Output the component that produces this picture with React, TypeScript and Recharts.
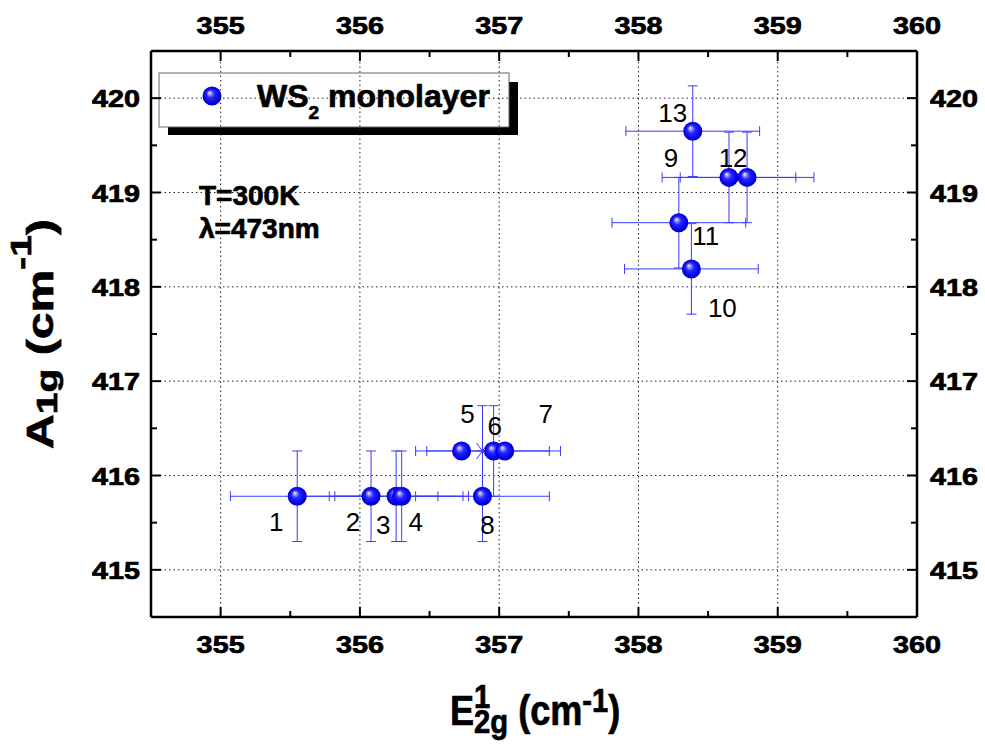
import React from "react";
import {
  ScatterChart,
  Scatter,
  XAxis,
  YAxis,
  ErrorBar,
  ReferenceLine,
  Customized,
} from "recharts";

// E2g^1 / A1g Raman peak positions of the WS2 monolayer samples (cm^-1)
const sampleNames = ["1", "2", "3", "4", "5", "6", "7", "8", "9", "10", "11", "12", "13"];
const e2gValues = [355.55, 356.08, 356.26, 356.3, 356.73, 356.96, 357.04, 356.88, 358.65, 358.38, 358.29, 358.78, 358.39];
const a1gValues = [415.78, 415.78, 415.78, 415.78, 416.26, 416.26, 416.26, 415.78, 419.16, 418.19, 418.68, 419.16, 419.65];
const e2gErrors = [0.48, 0.48, 0.48, 0.48, 0, 0.48, 0, 0.48, 0.48, 0.48, 0.48, 0.48, 0.48];
const a1gErrors = [0.48, 0.48, 0.48, 0.48, 0, 0.48, 0, 0.48, 0.48, 0.48, 0.48, 0.48, 0.48];

// stray cross-marked point with its own error bars
const crossE2g = [356.88];
const crossA1g = [416.26];
const crossErr = [0.48];

const xTicks = [355, 355.5, 356, 356.5, 357, 357.5, 358, 358.5, 359, 359.5, 360];
const yTicks = [415, 415.5, 416, 416.5, 417, 417.5, 418, 418.5, 419, 419.5, 420];
const xGrid = [355, 356, 357, 358, 359];
const yGrid = [415, 416, 417, 418, 419, 420];

// label placement relative to each point: [dx of centre, dy of baseline]
const labelOffsets: [number, number][] = [
  [-21, 35], [-18, 35], [-13, 38], [14, 35], [6, -28], [1, -16], [41, -28],
  [5, 38], [-58, -10], [31, 48], [27, 22], [-14, -10], [-20, -9],
];

const points = sampleNames.map((name, i) => ({
  name,
  x: e2gValues[i],
  y: a1gValues[i],
  ex: e2gErrors[i],
  ey: a1gErrors[i],
}));

const crossPoints = crossE2g.map((x, i) => ({ x, y: crossA1g[i], ex: crossErr[i], ey: crossErr[i] }));

const FONT = '"Liberation Sans", Arial, Helvetica, sans-serif';
const BAR = "#3a3aff";
const axisStyle = { stroke: "#000", strokeWidth: 2.5 };
// heavier bold, like the original export
const heavy = { fontFamily: FONT, fontWeight: "bold" as const, fill: "#000", stroke: "#000", strokeWidth: 0.7 };

const isMajor = (v: number) => Math.abs(v - Math.round(v)) < 1e-6;

function TickLabel({ x, y, anchor, value }: any) {
  return (
    <text transform={`translate(${x},${y}) scale(1.2,1)`} textAnchor={anchor} fontSize={24} {...heavy}>
      {value}
    </text>
  );
}

function BottomTick({ x, y, payload }: any) {
  const major = isMajor(payload.value);
  return (
    <g>
      <line x1={x} x2={x} y1={y} y2={y - (major ? 10 : 6)} stroke="#000" strokeWidth={2} />
      {major && <TickLabel x={x} y={y + 36} anchor="middle" value={payload.value} />}
    </g>
  );
}

function TopTick({ x, y, payload }: any) {
  const major = isMajor(payload.value);
  return (
    <g>
      <line x1={x} x2={x} y1={y} y2={y + (major ? 10 : 6)} stroke="#000" strokeWidth={2} />
      {major && <TickLabel x={x} y={y - 17} anchor="middle" value={payload.value} />}
    </g>
  );
}

function LeftTick({ x, y, payload }: any) {
  const major = isMajor(payload.value);
  return (
    <g>
      <line x1={x} x2={x + (major ? 10 : 6)} y1={y} y2={y} stroke="#000" strokeWidth={2} />
      {major && <TickLabel x={x - 11} y={y + 9} anchor="end" value={payload.value} />}
    </g>
  );
}

function RightTick({ x, y, payload }: any) {
  const major = isMajor(payload.value);
  return (
    <g>
      <line x1={x} x2={x - (major ? 10 : 6)} y1={y} y2={y} stroke="#000" strokeWidth={2} />
      {major && <TickLabel x={x + 13} y={y + 9} anchor="start" value={payload.value} />}
    </g>
  );
}

function Ball({ cx, cy }: any) {
  if (cx == null || cy == null) return null;
  return <circle cx={cx} cy={cy} r={9.5} fill="url(#wsBall)" />;
}

function Cross({ cx, cy }: any) {
  if (cx == null || cy == null) return null;
  return (
    <g stroke={BAR} strokeWidth={1}>
      <line x1={cx - 6} y1={cy - 8} x2={cx + 6} y2={cy + 8} />
      <line x1={cx - 6} y1={cy + 8} x2={cx + 6} y2={cy - 8} />
    </g>
  );
}

function PointLabel({ cx, cy, payload }: any) {
  if (cx == null || cy == null || !payload) return null;
  const i = sampleNames.indexOf(payload.name);
  const [dx, dy] = labelOffsets[i];
  return (
    <text x={cx + dx} y={cy + dy} textAnchor="middle" fontFamily={FONT} fontSize={26} fill="#000">
      {payload.name}
    </text>
  );
}

function Overlay() {
  return (
    <g>
      <defs>
        <radialGradient id="wsBall" cx="50%" cy="50%" r="50%" fx="36%" fy="32%">
          <stop offset="0%" stopColor="#f4f4ff" />
          <stop offset="16%" stopColor="#a0a0ff" />
          <stop offset="42%" stopColor="#2828ff" />
          <stop offset="85%" stopColor="#0000ea" />
          <stop offset="100%" stopColor="#0000b8" />
        </radialGradient>
      </defs>

      {/* legend box with drop shadow */}
      <rect x={168} y={82} width={350} height={53} fill="#000" />
      <rect x={159} y={73} width={350} height={54} fill="#fff" stroke="#666" strokeWidth={1} />
      <circle cx={212} cy={96} r={9.5} fill="url(#wsBall)" />
      <text x={257} y={107} fontSize={32} {...heavy}>
        WS
        <tspan fontSize={19} dy={12}>2</tspan>
        <tspan dy={-12}> monolayer</tspan>
      </text>

      <text x={199} y={205} fontSize={28} {...heavy}>
        T=300K
      </text>
      <text x={199} y={238} fontSize={28} {...heavy}>
        λ=473nm
      </text>

      {/* y title */}
      <text transform="translate(53,334) rotate(-90) scale(1.3,1)" textAnchor="middle" fontSize={37} {...heavy}>
        A<tspan fontSize={30} dy={4}>1g</tspan>
        <tspan dy={-4}> (cm</tspan>
        <tspan fontSize={30} dy={-22}>-1</tspan>
        <tspan dy={22}>)</tspan>
      </text>

      {/* x title */}
      <text transform="translate(450,725) scale(0.86,1)" fontSize={42} {...heavy}>
        E<tspan fontSize={34} dy={-17}>1</tspan>
        <tspan fontSize={34} dx={-19} dy={25}>2g</tspan>
        <tspan dy={-8}> (cm</tspan>
        <tspan fontSize={34} dy={-13}>-1</tspan>
        <tspan dy={13}>)</tspan>
      </text>
    </g>
  );
}

export default function App() {
  return (
    <div style={{ position: "absolute", left: 0, top: 0, background: "#fff" }}>
      <ScatterChart width={985} height={744} margin={{ top: 0, right: 0, bottom: 0, left: 0 }}>
        <XAxis
          xAxisId="b"
          type="number"
          dataKey="x"
          domain={[354.5, 360]}
          ticks={xTicks}
          interval={0}
          height={127}
          tickSize={0}
          tickMargin={0}
          tickLine={false}
          axisLine={axisStyle}
          tick={(p: any) => <BottomTick {...p} />}
          allowDataOverflow
        />
        <XAxis
          xAxisId="t"
          orientation="top"
          type="number"
          dataKey="x"
          domain={[354.5, 360]}
          ticks={xTicks}
          interval={0}
          height={51}
          tickSize={0}
          tickMargin={0}
          tickLine={false}
          axisLine={axisStyle}
          tick={(p: any) => <TopTick {...p} />}
          allowDataOverflow
        />
        <YAxis
          yAxisId="l"
          type="number"
          dataKey="y"
          domain={[414.5, 420.5]}
          ticks={yTicks}
          interval={0}
          width={151}
          tickSize={0}
          tickMargin={0}
          tickLine={false}
          axisLine={axisStyle}
          tick={(p: any) => <LeftTick {...p} />}
          allowDataOverflow
        />
        <YAxis
          yAxisId="r"
          orientation="right"
          type="number"
          dataKey="y"
          domain={[414.5, 420.5]}
          ticks={yTicks}
          interval={0}
          width={68}
          tickSize={0}
          tickMargin={0}
          tickLine={false}
          axisLine={axisStyle}
          tick={(p: any) => <RightTick {...p} />}
          allowDataOverflow
        />

        {xGrid.map((v) => (
          <ReferenceLine key={`gx${v}`} x={v} xAxisId="b" yAxisId="l" stroke="#222" strokeDasharray="1.5 3" />
        ))}
        {yGrid.map((v) => (
          <ReferenceLine key={`gy${v}`} y={v} xAxisId="b" yAxisId="l" stroke="#222" strokeDasharray="1.5 3" />
        ))}

        <Scatter data={crossPoints} xAxisId="b" yAxisId="l" shape={<Cross />} isAnimationActive={false}>
          <ErrorBar dataKey="ex" direction="x" width={5} stroke={BAR} strokeWidth={1} isAnimationActive={false} />
          <ErrorBar dataKey="ey" direction="y" width={5} stroke={BAR} strokeWidth={1} isAnimationActive={false} />
        </Scatter>
        <Scatter data={points} xAxisId="b" yAxisId="l" shape={<Ball />} isAnimationActive={false}>
          <ErrorBar dataKey="ex" direction="x" width={5} stroke={BAR} strokeWidth={1} isAnimationActive={false} />
          <ErrorBar dataKey="ey" direction="y" width={5} stroke={BAR} strokeWidth={1} isAnimationActive={false} />
        </Scatter>
        <Scatter data={points} xAxisId="b" yAxisId="l" shape={<PointLabel />} isAnimationActive={false} />

        <Customized component={Overlay} />
      </ScatterChart>
    </div>
  );
}
